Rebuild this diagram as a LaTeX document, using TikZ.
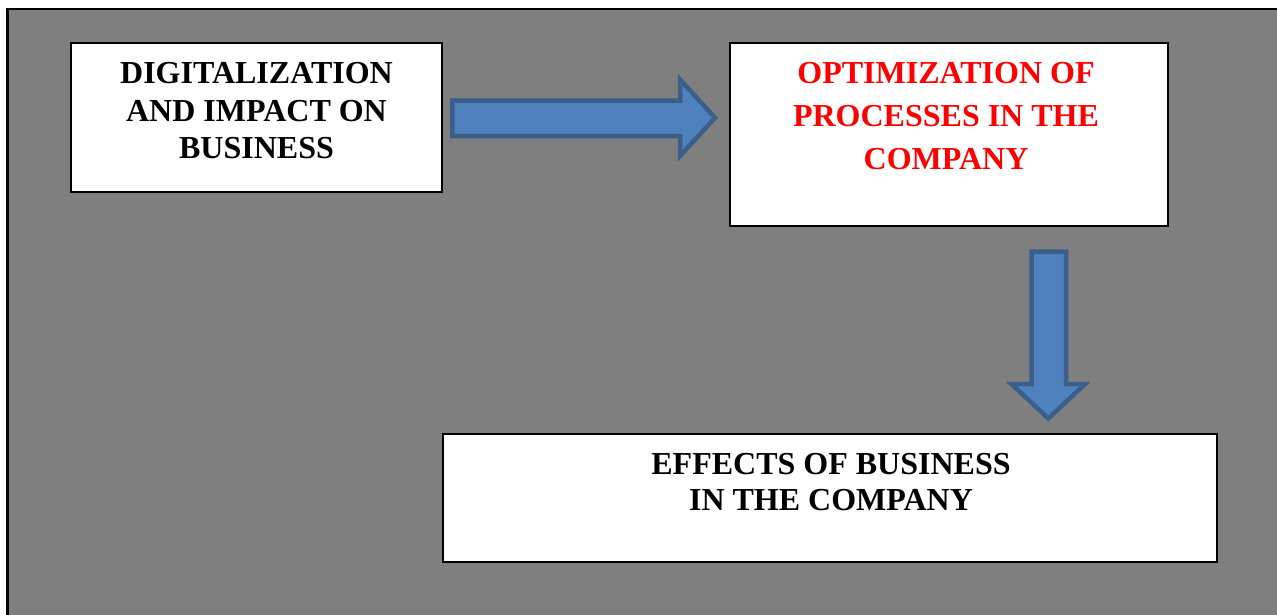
\documentclass[tikz,border=0pt]{standalone}
\usepackage{fontspec}
\setmainfont{Liberation Serif}
\definecolor{bggray}{HTML}{7F7F7F}
\definecolor{arrowfill}{HTML}{4F81BD}
\definecolor{arrowline}{HTML}{3A5F8B}
\definecolor{txtred}{HTML}{FF0000}
\tikzset{
  box/.style={draw=black, line width=2pt, fill=white, inner sep=0pt},
  boxtext/.style={inner sep=0pt, align=center, anchor=north, font=\bfseries\fontsize{32}{37.5}\selectfont},
  blockarrow/.style={fill=arrowfill, draw=arrowline, line width=4.5pt, line join=miter}
}
\begin{document}
\begin{tikzpicture}[x=1pt,y=-1pt]
\useasboundingbox (0,0) rectangle (1277,614);
\fill[bggray] (7.5,9.2) rectangle (1290,630);
\draw[line width=2.5pt] (7.5,630) -- (7.5,9.2) -- (1290,9.2);
% boxes
\node[box, minimum width=371pt, minimum height=149pt] (b1) at (256.5,117.5) {};
\node[box, minimum width=438pt, minimum height=183pt] (b2) at (949,134.5) {};
\node[box, minimum width=774pt, minimum height=128pt] (b3) at (830,498) {};
% texts
\node[boxtext] (t1) at (256.5,62.5) {DIGITALIZATION\\AND IMPACT ON\\BUSINESS};
\node[boxtext, text=txtred, font=\bfseries\fontsize{32}{43}\selectfont] (t2) at (946,62) {OPTIMIZATION OF\\PROCESSES IN THE\\COMPANY};
\node[boxtext, font=\bfseries\fontsize{32}{36.5}\selectfont] (t3) at (831,453) {EFFECTS OF BUSINESS\\IN THE COMPANY};
% block arrows
\draw[blockarrow] (452.25,100.5) -- (680,100.5) -- (680,79.5) -- (715,117.8) -- (680,156) -- (680,136) -- (452.25,136) -- cycle;
\draw[blockarrow] (1031.5,251.5) -- (1066,251.5) -- (1066,384) -- (1085,384) -- (1048.3,418.5) -- (1011.5,384) -- (1031.5,384) -- cycle;
\end{tikzpicture}
\end{document}
